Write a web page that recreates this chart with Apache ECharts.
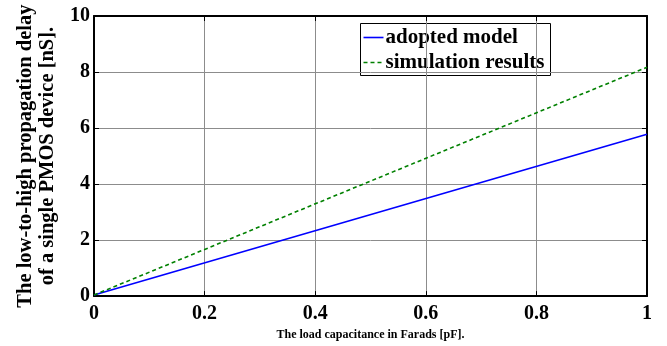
<!DOCTYPE html>
<html>
<head>
<meta charset="utf-8">
<script src="https://cdn.jsdelivr.net/npm/echarts@6/dist/echarts.min.js"></script>
<style>
  html, body { margin: 0; padding: 0; background: #fff; }
  #chart { width: 667px; height: 346px; }
</style>
</head>
<body>
<div id="chart"></div>
<script>
// Load capacitance (pF) at the two ends of each straight line
const capacitance = [0, 1];
// Low-to-high propagation delay (nS)
const adoptedModel = [0.04, 5.78];
const simulationResults = [0.04, 8.17];
const seriesNames = ['adopted model', 'simulation results'];
const seriesColors = ['#0000ff', '#008000'];
const xTicks = [0, 0.2, 0.4, 0.6, 0.8, 1];
const yTicks = [0, 2, 4, 6, 8, 10];

const serif = '"Liberation Serif", "Times New Roman", serif';
const pairs = (xs, ys) => xs.map((x, i) => [x, ys[i]]);

const chart = echarts.init(document.getElementById('chart'), null, { renderer: 'canvas' });

const frameAxis = {
  axisLine: { show: true, onZero: false, lineStyle: { color: '#000', width: 2 } },
  axisTick: { show: true, inside: true, length: 5, lineStyle: { color: '#000', width: 1 } },
  axisLabel: { show: false },
  splitLine: { show: false }
};

// Boxed legend in the upper right of the plot, drawn as a graphic group
const legendBox = {
  type: 'group', left: 360, top: 23, z: 100,
  children: [
    { type: 'rect', shape: { x: 0, y: 0, width: 190, height: 52 },
      style: { fill: '#fff', stroke: '#000', lineWidth: 1 } },
    { type: 'line', shape: { x1: 3, y1: 14, x2: 23, y2: 14 },
      style: { stroke: seriesColors[0], lineWidth: 1.6 } },
    { type: 'text', x: 25, y: 14,
      style: { text: seriesNames[0], fill: '#000', font: 'bold 21px ' + serif, verticalAlign: 'middle' } },
    { type: 'line', shape: { x1: 3, y1: 39, x2: 23, y2: 39 },
      style: { stroke: seriesColors[1], lineWidth: 1.6, lineDash: [4, 3] } },
    { type: 'text', x: 25, y: 39,
      style: { text: seriesNames[1], fill: '#000', font: 'bold 21px ' + serif, verticalAlign: 'middle' } }
  ]
};

chart.setOption({
  animation: false,
  backgroundColor: '#fff',
  grid: { left: 94, top: 16, right: 20, bottom: 44, containLabel: false },
  graphic: [legendBox],
  xAxis: [
    {
      type: 'value', min: xTicks[0], max: xTicks[xTicks.length - 1], interval: 0.2,
      position: 'bottom',
      name: 'The load capacitance in Farads [pF].',
      nameLocation: 'middle', nameGap: 29,
      nameTextStyle: { fontFamily: serif, fontWeight: 'bold', fontSize: 12, color: '#000' },
      axisLine: { show: true, onZero: false, lineStyle: { color: '#000', width: 2 } },
      axisTick: { show: true, inside: true, length: 5, lineStyle: { color: '#000' } },
      axisLabel: {
        margin: 8, fontFamily: serif, fontWeight: 'bold', fontSize: 20, color: '#000',
        formatter: v => String(+v.toFixed(1))
      },
      splitLine: { show: true, lineStyle: { color: '#8c8c8c', width: 1 } }
    },
    Object.assign({ type: 'value', min: 0, max: 1, interval: 0.2, position: 'top' }, frameAxis)
  ],
  yAxis: [
    {
      type: 'value', min: yTicks[0], max: yTicks[yTicks.length - 1], interval: 2,
      position: 'left',
      name: 'The low-to-high propagation delay\nof a single PMOS device [nS].',
      nameLocation: 'middle', nameGap: 31, nameRotate: 90,
      nameTextStyle: { fontFamily: serif, fontWeight: 'bold', fontSize: 20.5, color: '#000', lineHeight: 22 },
      axisLine: { show: true, onZero: false, lineStyle: { color: '#000', width: 2 } },
      axisTick: { show: true, inside: true, length: 5, lineStyle: { color: '#000' } },
      axisLabel: { margin: 4, fontFamily: serif, fontWeight: 'bold', fontSize: 20, color: '#000' },
      splitLine: { show: true, lineStyle: { color: '#8c8c8c', width: 1 } }
    },
    Object.assign({ type: 'value', min: 0, max: 10, interval: 2, position: 'right' }, frameAxis)
  ],
  series: [
    {
      name: seriesNames[0], type: 'line', showSymbol: false, symbol: 'none',
      data: pairs(capacitance, adoptedModel),
      lineStyle: { color: seriesColors[0], width: 1.6 },
      itemStyle: { color: seriesColors[0] }
    },
    {
      name: seriesNames[1], type: 'line', showSymbol: false, symbol: 'none',
      data: pairs(capacitance, simulationResults),
      lineStyle: { color: seriesColors[1], width: 1.6, type: [4, 3] },
      itemStyle: { color: seriesColors[1] }
    }
  ]
});
</script>
</body>
</html>
